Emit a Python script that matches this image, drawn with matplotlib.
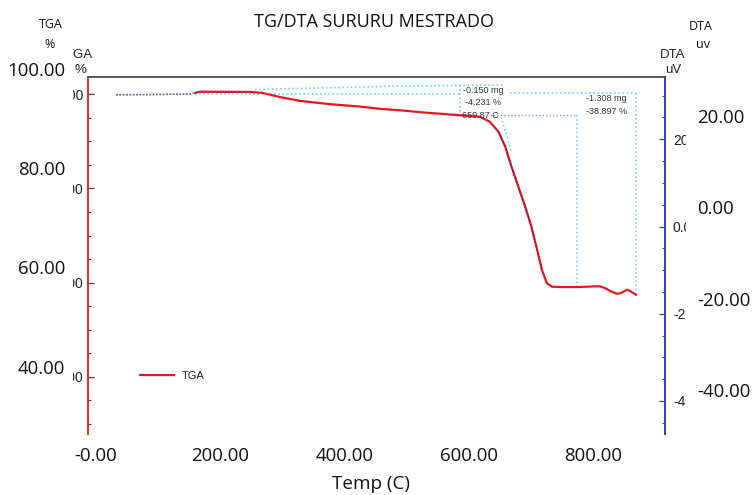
import matplotlib
matplotlib.use("Agg")
import matplotlib.pyplot as plt
from matplotlib.ticker import FixedLocator, MultipleLocator, FormatStrFormatter
from matplotlib.transforms import Bbox, TransformedBbox

# ---- TGA record (temperature in C, mass in %) ----
temp = [32, 87, 151, 160, 167, 248, 267, 296, 328, 376, 424, 457, 489, 521, 550,
        580, 617, 633, 647, 658, 668, 679, 690, 700, 708, 717, 725, 733, 746, 778,
        802, 810, 818, 830, 838, 844, 854, 860, 868]
mass = [99.90, 99.94, 100.06, 100.30, 100.55, 100.50, 100.30, 99.40, 98.60, 97.90,
        97.40, 96.90, 96.60, 96.20, 95.90, 95.60, 95.24, 94.18, 92.05, 88.87,
        84.62, 80.37, 76.13, 71.88, 67.62, 62.67, 59.85, 59.12, 59.06, 59.06,
        59.20, 59.20, 58.85, 58.00, 57.60, 57.80, 58.50, 58.10, 57.40]

# analysis marker results
step1_text = ["-0.150 mg", "-4.231 %", "659.87 C"]
step2_text = ["-1.308 mg", "-38.897 %"]

# axis ticks
tga_ticks = [40, 60, 80, 100]
dta_ticks = [-40, -20, 0, 20]
temp_ticks = [0, 200, 400, 600, 800]
temp_labels = ["-0.00", "200.00", "400.00", "600.00", "800.00"]

W, H = 755, 495
fig = plt.figure(figsize=(W / 100, H / 100), dpi=100)
fig.patch.set_facecolor("white")


def fx(px):
    return px / W


def fy(py):
    return 1 - py / H


RED = "#e8161e"
BLUE = "#3a3ab4"
CYAN = "#74d4e4"
SMALL = ["Liberation Sans Narrow", "Liberation Sans", "DejaVu Sans"]
BIG = ["Open Sans", "DejaVu Sans"]

XL = (-12.86, 914.0)

# ---------------- instrument plot ----------------
ax = fig.add_axes([fx(88), fy(434), (664.5 - 88) / W, (434 - 76.5) / H], zorder=2)
ax.patch.set_visible(False)
ax.set_xlim(*XL)
ax.set_ylim(27.83, 103.78)
ax2 = ax.twinx()
ax2.set_ylim(-47.57, 34.4)

for a in (ax, ax2):
    for s in a.spines.values():
        s.set_visible(False)
ax.spines["left"].set_visible(True)
ax.spines["left"].set_color(RED)
ax.spines["left"].set_linewidth(1.3)
ax.spines["top"].set_visible(True)
ax.spines["top"].set_color("#5a5a5a")
ax.spines["top"].set_linewidth(1.4)
ax2.spines["right"].set_visible(True)
ax2.spines["right"].set_color(BLUE)
ax2.spines["right"].set_linewidth(1.4)

ax.tick_params(axis="x", bottom=False, labelbottom=False, top=False)
ax.yaxis.set_major_locator(FixedLocator(tga_ticks))
ax.yaxis.set_minor_locator(MultipleLocator(5))
ax.yaxis.set_major_formatter(FormatStrFormatter("%.2f"))
ax.tick_params(axis="y", which="major", direction="in", length=4, width=0.9,
               color="#444444", pad=3.6, labelsize=10, labelcolor="#222222")
ax.tick_params(axis="y", which="minor", direction="in", length=2.5, width=0.8,
               color="#444444")
ax2.yaxis.set_major_locator(FixedLocator(dta_ticks))
ax2.yaxis.set_minor_locator(MultipleLocator(5))
ax2.yaxis.set_major_formatter(FormatStrFormatter("%.2f"))
ax2.tick_params(axis="y", which="major", direction="in", length=4, width=0.9,
                color="#444444", pad=6.1, labelsize=10, labelcolor="#222222")
ax2.tick_params(axis="y", which="minor", direction="in", length=2.5, width=0.8,
                color="#444444")

# the instrument's own tick labels are cut off at the window edges
clip_left = TransformedBbox(Bbox([[fx(73), 0], [1, 1]]), fig.transFigure)
clip_right = TransformedBbox(Bbox([[0, 0], [fx(686), 1]]), fig.transFigure)
for lab in ax.get_yticklabels():
    lab.set_family(SMALL)
    lab.set_clip_box(clip_left)
    lab.set_clip_on(True)
for lab in ax2.get_yticklabels():
    lab.set_family(SMALL)
    lab.set_clip_box(clip_right)
    lab.set_clip_on(True)

# analysis guide lines (dotted)
dot = dict(color=CYAN, lw=1.2, linestyle=(0, (1, 1.5)), zorder=1)
ax.plot([255.6, 488.7, 657.6], [101.02, 101.76, 101.98], **dot)
ax.plot([665.6, 868.2], [100.28, 100.28], **dot)
ax.plot([159.2, 585.2], [99.96, 99.96], **dot)
ax.plot([585.2, 585.2], [101.98, 95.60], **dot)
ax.plot([773.3, 773.3], [95.60, 59.06], **dot)
ax.plot([868.2, 868.2], [100.28, 57.36], **dot)
ax.plot([651.1, 668.8], [95.18, 87.53], **dot)
ax.plot([633.4, 773.3], [95.60, 95.60], color="#8fa6c6", lw=1.0,
        linestyle=(0, (1, 1.5)), zorder=1)

# TGA curve: the first samples are plotted as a dotted baseline only
k0 = temp.index(160)
tga_line, = ax.plot(temp[k0:], mass[k0:], color=RED, lw=1.6, zorder=3,
                    solid_joinstyle="round")
ax.plot(temp[:k0 + 1], mass[:k0 + 1], color="#6a6a80", lw=1.2,
        linestyle=(0, (1.2, 0.8)), zorder=4)

# dark sampling dots over parts of the trace
i0 = temp.index(248)
ax.plot(temp[k0:i0 + 1], mass[k0:i0 + 1], color="#5a4a70", lw=1.0,
        linestyle=(0, (2, 1)), zorder=4)
j0, j1 = temp.index(647), temp.index(717)
ax.plot(temp[j0:j1 + 1], mass[j0:j1 + 1], color="#443344", lw=0.9,
        linestyle=(0, (1, 2)), zorder=4)

# result annotations
ann = dict(fontsize=6.5, color="#333333", family=["Liberation Sans", "DejaVu Sans"],
           zorder=5)
ax.text(590, 100.7, step1_text[0], ha="left", va="center", **ann)
ax.text(593, 98.36, step1_text[1], ha="left", va="center", **ann)
ax.text(588.4, 95.6, step1_text[2], ha="left", va="center", **ann)
ax.text(853.7, 99.2, step2_text[0], ha="right", va="center", **ann)
ax.text(853.7, 96.45, step2_text[1], ha="right", va="center", **ann)

leg = ax.legend(handles=[tga_line], labels=["TGA"], loc="center left",
                bbox_to_anchor=((140 - 88) / 576.5, (434 - 376) / 357.5),
                frameon=False, borderpad=0, borderaxespad=0, handlelength=3.1,
                handletextpad=0.7, prop={"family": ["Liberation Sans", "DejaVu Sans"],
                                         "size": 8})
for t in leg.get_texts():
    t.set_color("#222222")

# inner axis captions
cap = dict(fontsize=9.5, color="#222222", family=SMALL, ha="center", va="center")
t1 = fig.text(fx(79), fy(55), "TGA", **cap)
t2 = fig.text(fx(80), fy(70), "%", **cap)
for t in (t1, t2):
    t.set_clip_box(clip_left)
    t.set_clip_on(True)
fig.text(fx(673), fy(55), "DTA", **cap)
fig.text(fx(673), fy(70), "uV", **cap)

# ---------------- large labels ----------------
ov = fig.add_axes([fx(88), fy(434), (664.5 - 88) / W, (434 - 20) / H], zorder=1)
ov.patch.set_visible(False)
for s in ov.spines.values():
    s.set_visible(False)
ov.set_xlim(*XL)
ov.set_ylim(26.53, 109.75)
ov.set_xticks(temp_ticks)
ov.set_xticklabels(temp_labels)
ov.set_yticks(tga_ticks)
ov.yaxis.set_major_formatter(FormatStrFormatter("%.2f"))
ov.tick_params(axis="x", length=0, pad=9.5, labelsize=13.4)
ov.tick_params(axis="y", length=0, pad=16.3, labelsize=13.4)
ovr = ov.twinx()
for s in ovr.spines.values():
    s.set_visible(False)
ovr.set_ylim(-49.63, 41.02)
ovr.set_yticks(dta_ticks)
ovr.yaxis.set_major_formatter(FormatStrFormatter("%.2f"))
ovr.tick_params(axis="y", length=0, pad=23.4, labelsize=13.4)
for lab in ov.get_xticklabels() + ov.get_yticklabels() + ovr.get_yticklabels():
    lab.set_family(BIG)
    lab.set_color("#111111")
ov.set_xlabel("Temp (C)", family=BIG, fontsize=13.6, color="#111111")
ov.xaxis.set_label_coords((371 - 88) / 576.5, -(484 - 434) / 414)
ov.xaxis.label.set_va("center")

fig.text(fx(373.5), fy(22), "TG/DTA SURURU MESTRADO", family=BIG, fontsize=13,
         ha="center", va="center", color="#111111")
big_cap = dict(family=BIG, fontsize=9, ha="center", va="center", color="#111111")
fig.text(fx(51), fy(25), "TGA", **big_cap)
fig.text(fx(50), fy(44), "%", **big_cap)
fig.text(fx(701), fy(27), "DTA", **big_cap)
fig.text(fx(703), fy(44), "uv", **big_cap)

fig.savefig("out.png", dpi=100, facecolor="white")
